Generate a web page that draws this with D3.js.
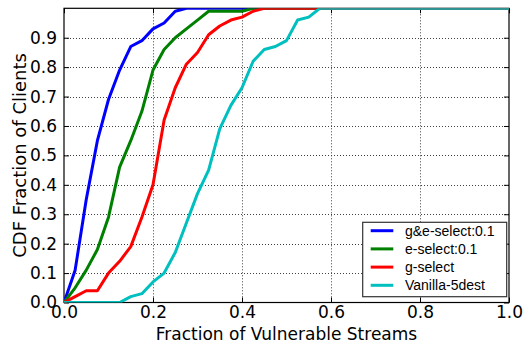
<!DOCTYPE html>
<html><head><meta charset="utf-8">
<script src="https://cdn.jsdelivr.net/npm/d3@7"></script>
<style>body{margin:0;background:#fff}svg{display:block}</style>
</head><body>
<svg id="c" width="525" height="347"></svg>
<script>
const seriesNames = ["g&e-select:0.1", "e-select:0.1", "g-select", "Vanilla-5dest"];
const seriesColors = ["#0000ff", "#008000", "#ff0000", "#00bfbf"];
const blueX  = [0,0.025,0.05,0.075,0.1,0.125,0.15,0.175,0.2,0.225,0.25,0.275,1.0];
const blueY  = [0,0.11,0.35,0.55,0.69,0.79,0.87,0.89,0.93,0.95,0.99,1.0,1.0];
const greenX = [0,0.025,0.05,0.075,0.1,0.125,0.15,0.175,0.2,0.225,0.25,0.275,0.3,0.325,0.4,0.425,1.0];
const greenY = [0,0.05,0.11,0.18,0.29,0.46,0.55,0.65,0.79,0.86,0.90,0.93,0.96,0.99,0.99,1.0,1.0];
const redX   = [0,0.025,0.05,0.075,0.1,0.125,0.15,0.175,0.2,0.225,0.25,0.275,0.3,0.325,0.35,0.375,0.4,0.425,0.45,1.0];
const redY   = [0,0.02,0.04,0.04,0.10,0.14,0.19,0.29,0.40,0.62,0.73,0.81,0.85,0.91,0.94,0.96,0.97,0.99,1.0,1.0];
const cyanX  = [0,0.125,0.15,0.175,0.2,0.225,0.25,0.275,0.3,0.325,0.35,0.375,0.4,0.425,0.45,0.475,0.5,0.525,0.55,0.575,1.0];
const cyanY  = [0,0,0.02,0.03,0.07,0.10,0.17,0.27,0.37,0.45,0.59,0.67,0.73,0.82,0.86,0.87,0.89,0.96,0.97,1.0,1.0];
const xTicks = [0.0,0.2,0.4,0.6,0.8,1.0];
const xTickLabels = ["0.0","0.2","0.4","0.6","0.8","1.0"];
const yTicks = [0.0,0.1,0.2,0.3,0.4,0.5,0.6,0.7,0.8,0.9];
const yTickLabels = ["0.0","0.1","0.2","0.3","0.4","0.5","0.6","0.7","0.8","0.9"];
const xTitle = "Fraction of Vulnerable Streams";
const yTitle = "CDF Fraction of Clients";

const svg = d3.select("#c");
const L = 64, R = 509, T = 8.3, B = 302.5;
const x = d3.scaleLinear().domain([0,1]).range([L,R]);
const y = d3.scaleLinear().domain([0,1]).range([B,T]);

// grid
const grid = svg.append("g").attr("stroke","#000").attr("stroke-width",1).attr("stroke-dasharray","1,2").attr("opacity",0.75);
xTicks.filter(v=>v>0&&v<1).forEach(v=>{
  grid.append("line").attr("x1",Math.round(x(v))+0.5).attr("x2",Math.round(x(v))+0.5).attr("y1",T).attr("y2",B);
});
yTicks.filter(v=>v>0).forEach(v=>{
  grid.append("line").attr("x1",L).attr("x2",R).attr("y1",Math.round(y(v))+0.5).attr("y2",Math.round(y(v))+0.5);
});

// axes (ticks inward)
const fontAx = "DejaVu Sans";
const gx = svg.append("g").attr("transform",`translate(0,${B})`)
  .call(d3.axisBottom(x).tickValues(xTicks).tickFormat((d,i)=>xTickLabels[i]).tickSizeInner(-5).tickSizeOuter(0).tickPadding(3));
const gxt = svg.append("g").attr("transform",`translate(0,${T})`)
  .call(d3.axisTop(x).tickValues(xTicks).tickFormat("").tickSizeInner(-5).tickSizeOuter(0));
const gy = svg.append("g").attr("transform",`translate(${L},0)`)
  .call(d3.axisLeft(y).tickValues(yTicks).tickFormat((d,i)=>yTickLabels[i]).tickSizeInner(-5).tickSizeOuter(0).tickPadding(7));
const gyr = svg.append("g").attr("transform",`translate(${R},0)`)
  .call(d3.axisRight(y).tickValues(yTicks).tickFormat("").tickSizeInner(-5).tickSizeOuter(0));
[gx,gxt,gy,gyr].forEach(g=>{
  g.select(".domain").remove();
  g.selectAll(".tick line").attr("stroke","#000").attr("stroke-width",1);
  g.selectAll("text").attr("font-family",fontAx).attr("font-size",17).attr("fill","#000");
});

// frame
svg.append("rect").attr("x",L).attr("y",T).attr("width",R-L).attr("height",B-T)
  .attr("fill","none").attr("stroke","#000").attr("stroke-width",1.2);

// lines
svg.append("clipPath").attr("id","clip").append("rect").attr("x",L).attr("y",T).attr("width",R-L).attr("height",B-T);
const allSeries = [[blueX,blueY],[greenX,greenY],[redX,redY],[cyanX,cyanY]];
const line = d3.line().x(d=>x(d[0])).y(d=>y(d[1]));
const lg = svg.append("g").attr("clip-path","url(#clip)");
allSeries.forEach((s,i)=>{
  const pts = s[0].map((v,j)=>[v,s[1][j]]);
  lg.append("path").attr("d",line(pts)).attr("fill","none").attr("stroke",seriesColors[i])
    .attr("stroke-width",3).attr("stroke-linejoin","round").attr("stroke-linecap","butt");
});

// axis titles
svg.append("text").attr("x",(L+R)/2).attr("y",340).attr("text-anchor","middle")
  .attr("font-family",fontAx).attr("font-size",17).text(xTitle);
svg.append("text").attr("transform",`translate(26,${(T+B)/2}) rotate(-90)`).attr("text-anchor","middle")
  .attr("font-family",fontAx).attr("font-size",18).text(yTitle);

// legend
const lgX = 362.7, lgY = 222.3, lgW = 144, lgH = 74.4;
svg.append("rect").attr("x",lgX).attr("y",lgY).attr("width",lgW).attr("height",lgH)
  .attr("fill","#fff").attr("stroke","#333").attr("stroke-width",1.2);
seriesNames.forEach((n,i)=>{
  const yy = lgY + 8.4 + i*18.2;
  svg.append("line").attr("x1",lgX+8).attr("x2",lgX+30.6).attr("y1",yy).attr("y2",yy)
    .attr("stroke",seriesColors[i]).attr("stroke-width",3);
  svg.append("text").attr("x",lgX+42.3).attr("y",yy+5).attr("font-family","Liberation Sans, Arial, sans-serif")
    .attr("font-size",14).text(n);
});
</script>
</body></html>
